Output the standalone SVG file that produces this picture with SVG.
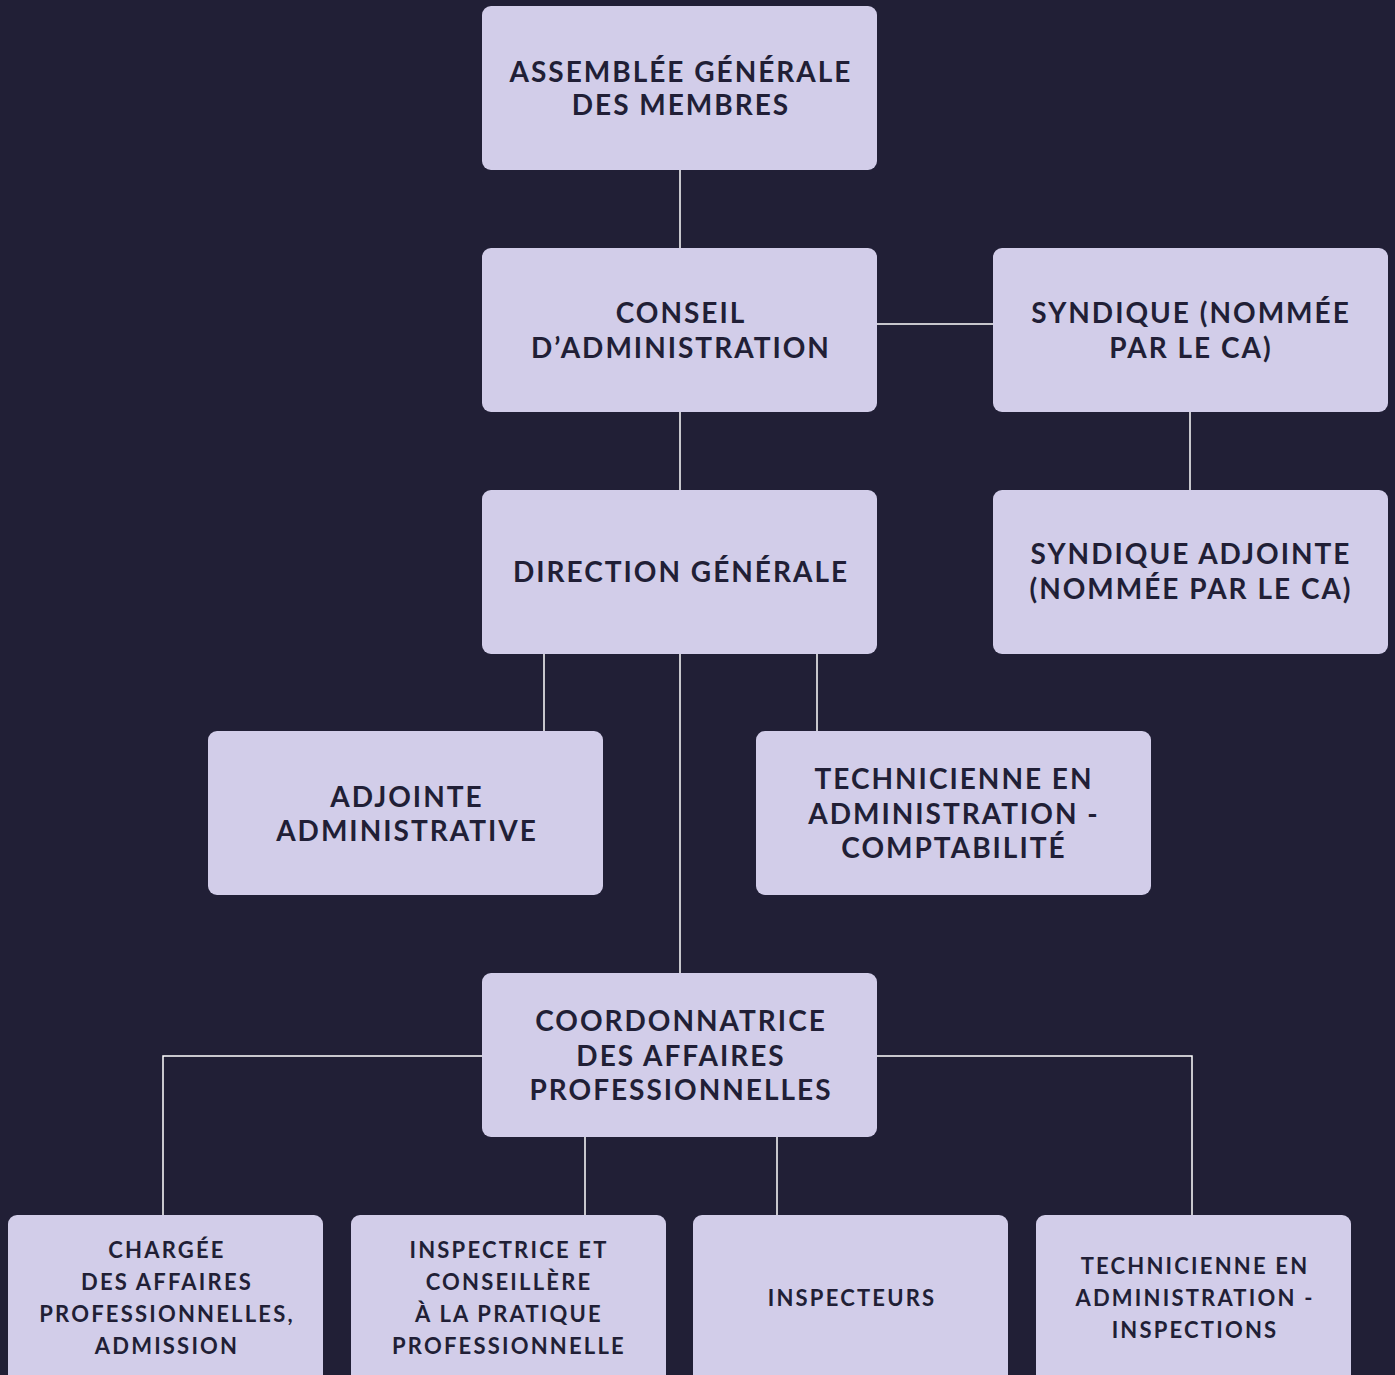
<svg xmlns="http://www.w3.org/2000/svg" width="1395" height="1375" viewBox="0 0 1395 1375">
<style>
.bg{fill:#211f36}
.box{fill:#d2cde9}
.t{font-family:Lato,"Liberation Sans",sans-serif;font-weight:700;font-size:28px;fill:#211f36;text-anchor:middle;letter-spacing:2px}
.s{font-family:Lato,"Liberation Sans",sans-serif;font-weight:700;font-size:22px;fill:#211f36;text-anchor:middle;letter-spacing:2.2px}
.c{fill:none;stroke:#ffffff;stroke-width:1.5}
</style>
<rect class="bg" x="0" y="0" width="1395" height="1375"/>
<g id="connectors">
<path class="c" d="M680 170V248"/>
<path class="c" d="M877 324H993"/>
<path class="c" d="M1190 412V490"/>
<path class="c" d="M680 412V490"/>
<path class="c" d="M544 654V731"/>
<path class="c" d="M817 654V731"/>
<path class="c" d="M680 654V973"/>
<path class="c" d="M482 1056H163V1215"/>
<path class="c" d="M877 1056H1192V1215"/>
<path class="c" d="M585 1137V1215"/>
<path class="c" d="M777 1137V1215"/>
</g>
<g id="assemblee">
<rect class="box" x="482" y="6" width="395" height="164" rx="9"/>
<text class="t" x="681" y="82">ASSEMBLÉE GÉNÉRALE</text>
<text class="t" x="681" y="115">DES MEMBRES</text>
</g>
<g id="conseil">
<rect class="box" x="482" y="248" width="395" height="164" rx="9"/>
<text class="t" x="681" y="323">CONSEIL</text>
<text class="t" x="681" y="358">D’ADMINISTRATION</text>
</g>
<g id="syndique">
<rect class="box" x="993" y="248" width="395" height="164" rx="9"/>
<text class="t" x="1191" y="323">SYNDIQUE (NOMMÉE</text>
<text class="t" x="1191" y="358">PAR LE CA)</text>
</g>
<g id="direction">
<rect class="box" x="482" y="490" width="395" height="164" rx="9"/>
<text class="t" x="681" y="582">DIRECTION GÉNÉRALE</text>
</g>
<g id="syndique-adjointe">
<rect class="box" x="993" y="490" width="395" height="164" rx="9"/>
<text class="t" x="1191" y="564">SYNDIQUE ADJOINTE</text>
<text class="t" x="1191" y="599">(NOMMÉE PAR LE CA)</text>
</g>
<g id="adjointe-administrative">
<rect class="box" x="208" y="731" width="395" height="164" rx="9"/>
<text class="t" x="407" y="807">ADJOINTE</text>
<text class="t" x="407" y="841">ADMINISTRATIVE</text>
</g>
<g id="technicienne-comptabilite">
<rect class="box" x="756" y="731" width="395" height="164" rx="9"/>
<text class="t" x="954" y="789">TECHNICIENNE EN</text>
<text class="t" x="954" y="824">ADMINISTRATION -</text>
<text class="t" x="954" y="858">COMPTABILITÉ</text>
</g>
<g id="coordonnatrice">
<rect class="box" x="482" y="973" width="395" height="164" rx="9"/>
<text class="t" x="681" y="1031">COORDONNATRICE</text>
<text class="t" x="681" y="1066">DES AFFAIRES</text>
<text class="t" x="681" y="1100">PROFESSIONNELLES</text>
</g>
<g id="chargee">
<rect class="box" x="8" y="1215" width="315" height="170" rx="9"/>
<text class="s" x="167" y="1258">CHARGÉE</text>
<text class="s" x="167" y="1290">DES AFFAIRES</text>
<text class="s" x="167" y="1322">PROFESSIONNELLES,</text>
<text class="s" x="167" y="1354">ADMISSION</text>
</g>
<g id="inspectrice">
<rect class="box" x="351" y="1215" width="315" height="170" rx="9"/>
<text class="s" x="509" y="1258">INSPECTRICE ET</text>
<text class="s" x="509" y="1290">CONSEILLÈRE</text>
<text class="s" x="509" y="1322">À LA PRATIQUE</text>
<text class="s" x="509" y="1354">PROFESSIONNELLE</text>
</g>
<g id="inspecteurs">
<rect class="box" x="693" y="1215" width="315" height="170" rx="9"/>
<text class="s" x="852" y="1306">INSPECTEURS</text>
</g>
<g id="technicienne-inspections">
<rect class="box" x="1036" y="1215" width="315" height="170" rx="9"/>
<text class="s" x="1195" y="1274">TECHNICIENNE EN</text>
<text class="s" x="1195" y="1306">ADMINISTRATION -</text>
<text class="s" x="1195" y="1338">INSPECTIONS</text>
</g>
</svg>
